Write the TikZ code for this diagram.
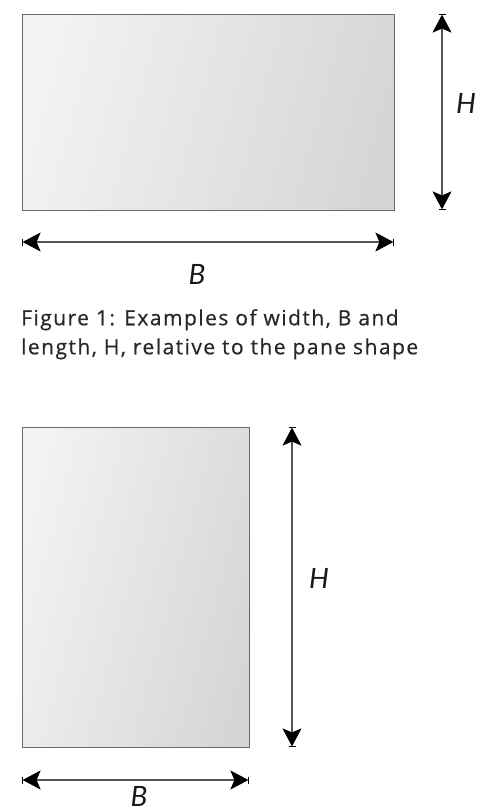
\documentclass[tikz,border=0pt]{standalone}
\usepackage{fontspec}
\setmainfont{Lato}
\newfontfamily\capfont[LetterSpace=7,FakeBold=0.6]{Open Sans}
\usetikzlibrary{arrows.meta}
\definecolor{frameline}{HTML}{6A6A6A}
\definecolor{dimline}{HTML}{555555}
\definecolor{captext}{HTML}{282828}
\tikzset{
  pane/.style={draw=frameline, line width=1.4pt, left color=white!95!black, right color=white!84!black, shading angle=75},
  dimarrow/.style={draw=dimline, line width=1.1pt,
    {Bar[width=7pt,line width=0.6pt,black].Stealth[length=18pt,width=19pt,inset=4pt,black]}-{Stealth[length=18pt,width=19pt,inset=4pt,black].Bar[width=7pt,line width=0.6pt,black]}},
  dimlabel/.style={font=\fontsize{28}{30}\selectfont\itshape, text=black!90},
  caption/.style={font=\capfont\fontsize{21}{29}\selectfont, text=captext, align=left, anchor=north west, inner sep=0pt}
}
\begin{document}
\begin{tikzpicture}[x=1pt,y=-1pt]
\useasboundingbox (0,0) rectangle (479,810);
\clip (0,0) rectangle (479,810);
% top pane
\node[pane, minimum width=372pt, minimum height=196pt, inner sep=0pt, anchor=north west] (p1) at (22,14) {};
\coordinate (h1t) at (442,14);
\coordinate (h1b) at (442,210);
\draw[dimarrow] (h1b) -- (h1t);
\node[dimlabel] (H1) at (466,103) {H};
\coordinate (b1l) at (22,242);
\coordinate (b1r) at (394,242);
\draw[dimarrow] (b1l) -- (b1r);
\node[dimlabel] (B1) at (197,274) {B};
% caption
\node[caption] (cap) at (21,309) {Figure 1: Examples of width, B and\\length, H, relative to the pane shape};
% bottom pane
\node[pane, minimum width=227pt, minimum height=320pt, inner sep=0pt, anchor=north west] (p2) at (22,427) {};
\coordinate (h2t) at (292,427);
\coordinate (h2b) at (292,747);
\draw[dimarrow] (h2b) -- (h2t);
\node[dimlabel] (H2) at (319,578) {H};
\coordinate (b2l) at (22,780);
\coordinate (b2r) at (249,780);
\draw[dimarrow] (b2l) -- (b2r);
\node[dimlabel, anchor=base, inner sep=0pt] (B2) at (139,806) {B};
\end{tikzpicture}
\end{document}
